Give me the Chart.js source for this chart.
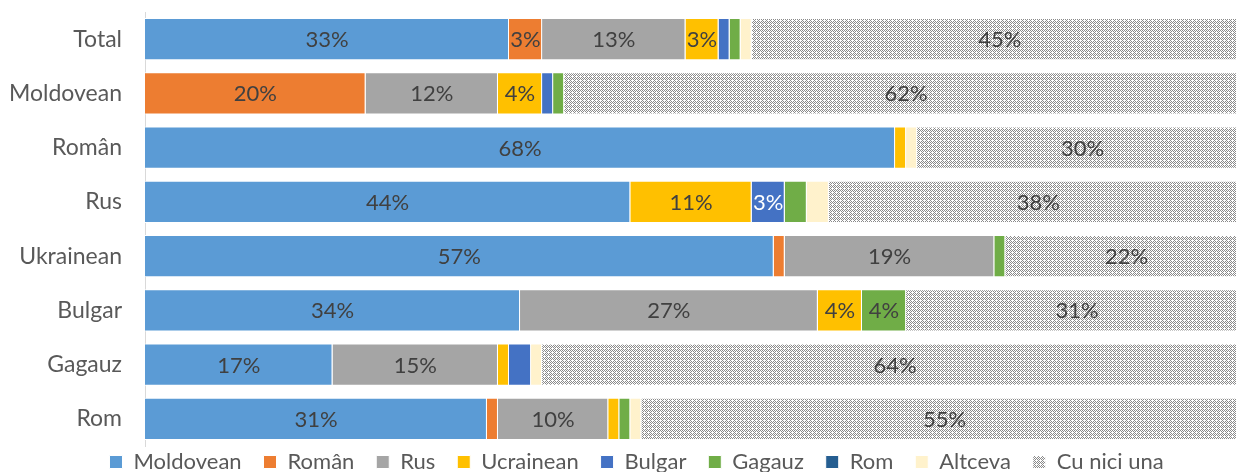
<!DOCTYPE html>
<html>
<head>
<meta charset="utf-8">
<script src="https://cdn.jsdelivr.net/npm/chart.js@4/dist/chart.umd.min.js"></script>
<style>
  html, body { margin: 0; padding: 0; background: #fff; overflow: hidden; }
  #wrap { width: 1250px; height: 483px; }
</style>
</head>
<body>
<div id="wrap"><canvas id="myChart"></canvas></div>
<script>
var categories = ["Total", "Moldovean", "Român", "Rus", "Ukrainean", "Bulgar", "Gagauz", "Rom"];

// cota (%) pe fiecare raspuns
var moldovean = [33, 0, 68, 44, 57, 34, 17, 31];
var roman     = [3, 20, 0, 0, 1, 0, 0, 1];
var rus       = [13, 12, 0, 0, 19, 27, 15, 10];
var ucrainean = [3, 4, 1, 11, 0, 4, 1, 1];
var bulgar    = [1, 1, 0, 3, 0, 0, 2, 0];
var gagauz    = [1, 1, 0, 2, 1, 4, 0, 1];
var rom       = [0, 0, 0, 0, 0, 0, 0, 0];
var altceva   = [1, 0, 1, 2, 0, 0, 1, 1];
var niciuna   = [45, 62, 30, 38, 22, 31, 64, 55];

// hasura pt "Cu nici una"
function makePattern() {
  var c = document.createElement("canvas");
  c.width = 8; c.height = 8;
  var g = c.getContext("2d");
  g.fillStyle = "#ffffff";
  g.fillRect(0, 0, 8, 8);
  g.fillStyle = "#8a8a8a";
  for (var y = 0; y < 8; y++) {
    for (var x = 0; x < 8; x++) {
      if ((x + y) % 2 == 0 && !(x % 4 == 0 && y % 4 == 0)) g.fillRect(x, y, 1, 1);
    }
  }
  return g.createPattern(c, "repeat");
}

var labelPlugin = {
  id: "barLabels",
  afterLayout: function (chart) {
    // legenda putin mai la dreapta, ca in original
    chart.legend.left += 21;
    chart.legend.right += 21;
  },
  afterDatasetsDraw: function (chart) {
    var ctx = chart.ctx;
    ctx.save();
    ctx.font = "22px Lato";
    ctx.textAlign = "center";
    ctx.textBaseline = "middle";
    chart.data.datasets.forEach(function (ds, i) {
      var meta = chart.getDatasetMeta(i);
      meta.data.forEach(function (el, j) {
        var v = ds.data[j];
        if (v < 3) return;
        ctx.fillStyle = ds.label == "Bulgar" ? "#ffffff" : "#404040";
        ctx.fillText(v + "%", (el.x + el.base) / 2, el.y + 1);
      });
    });
    ctx.restore();
  }
};

var names = ["Moldovean", "Român", "Rus", "Ucrainean", "Bulgar", "Gagauz", "Rom", "Altceva", "Cu nici una"];
var values = [moldovean, roman, rus, ucrainean, bulgar, gagauz, rom, altceva, niciuna];
var colors = ["#5b9bd5", "#ed7d31", "#a5a5a5", "#ffc000", "#4472c4", "#70ad47", "#255e91", "#fff2cc", makePattern()];

var datasets = [];
for (var i = 0; i < names.length; i++) {
  datasets.push({
    label: names[i],
    data: values[i],
    backgroundColor: colors[i],
    borderColor: "#ffffff",
    borderWidth: 1,
    barPercentage: 0.78,
    categoryPercentage: 1
  });
}

var ctx = document.getElementById("myChart");
var chart = new Chart(ctx, {
  type: "bar",
  data: { labels: categories, datasets: datasets },
  plugins: [labelPlugin],
  options: {
    indexAxis: "y",
    responsive: true,
    maintainAspectRatio: false,
    animation: false,
    layout: { padding: { top: 12, right: 2, left: 0, bottom: 0 } },
    scales: {
      x: { stacked: true, min: 0, max: 100, display: false },
      y: {
        stacked: true,
        grid: { display: false, drawTicks: false },
        border: { display: true, color: "#d9d9d9", width: 1 },
        ticks: { color: "#595959", font: { family: "Lato", size: 23 }, padding: 23 },
        afterFit: function (scale) {
          scale.width = 145;
          scale.paddingTop = 0;
          scale.paddingBottom = 0;
        }
      }
    },
    plugins: {
      tooltip: { enabled: false },
      legend: {
        position: "bottom",
        labels: {
          color: "#595959",
          font: { family: "Lato", size: 22 },
          boxWidth: 13,
          boxHeight: 13,
          padding: 5,
          generateLabels: function (chart) {
            var items = Chart.defaults.plugins.legend.labels.generateLabels(chart);
            items.forEach(function (it) { it.text = it.text + "   "; });
            return items;
          }
        }
      }
    }
  }
});
</script>
</body>
</html>
